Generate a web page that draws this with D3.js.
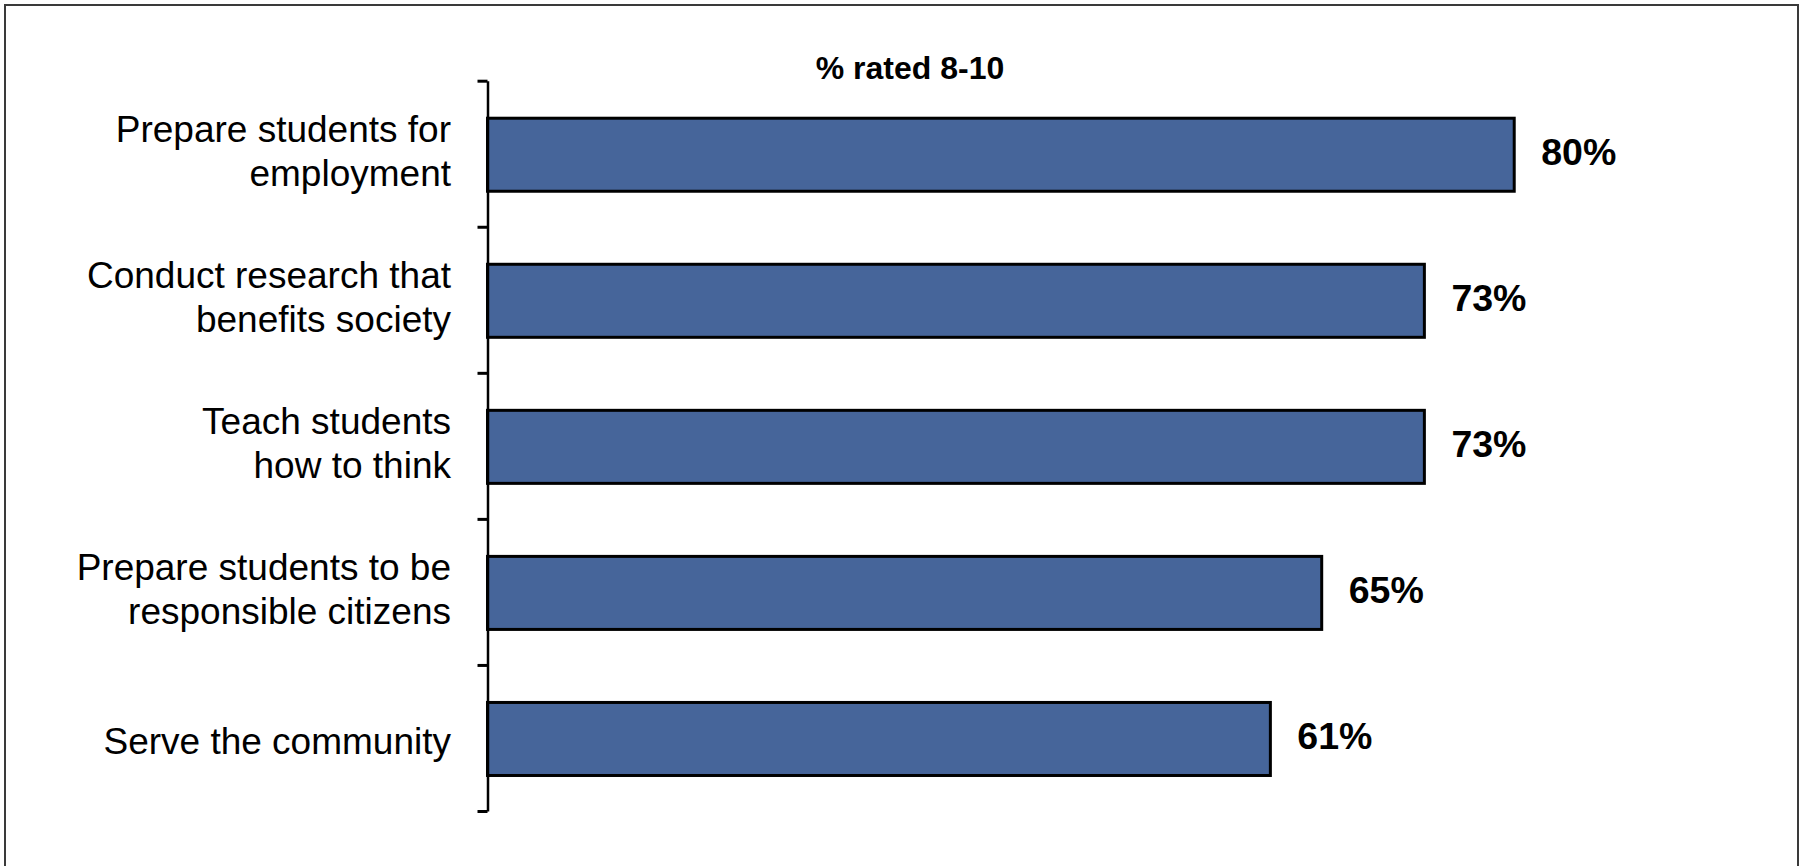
<!DOCTYPE html>
<html>
<head>
<meta charset="utf-8">
<script src="https://cdn.jsdelivr.net/npm/d3@7/dist/d3.min.js"></script>
<style>
  html, body { margin: 0; padding: 0; background: #fff; }
  svg { display: block; }
  text { font-family: "Liberation Sans", Arial, Helvetica, sans-serif; fill: #000; }
</style>
</head>
<body>
<svg id="chart" width="1802" height="866"></svg>
<script>
// ---- data ----
const categories = [
  ["Prepare students for", "employment"],
  ["Conduct research that", "benefits society"],
  ["Teach students", "how to think"],
  ["Prepare students to be", "responsible citizens"],
  ["Serve the community"]
];
const values = [80, 73, 73, 65, 61];
const valueLabels = ["80%", "73%", "73%", "65%", "61%"];
const chartTitle = "% rated 8-10";

// ---- layout ----
(function () {
const axisX = 487.5;
const plotTop = 80.7, plotBottom = 811;
const svg = d3.select("#chart");

// frame
svg.append("rect")
  .attr("x", 5).attr("y", 5)
  .attr("width", 1793).attr("height", 880)
  .attr("fill", "none").attr("stroke", "#3a3a3a").attr("stroke-width", 2);

const keys = categories.map((d, i) => i);
const y = d3.scaleBand().domain(keys).range([plotTop, plotBottom])
  .paddingInner(0.5).paddingOuter(0.25);
const x = d3.scaleLinear().domain([0, 100]).range([axisX, axisX + 1283.4]);

// bars
svg.append("g").selectAll("rect").data(values).join("rect")
  .attr("x", x(0))
  .attr("y", (d, i) => y(i) + 1)
  .attr("width", d => x(d) - x(0))
  .attr("height", y.bandwidth())
  .attr("fill", "#46659a")
  .attr("stroke", "#000")
  .attr("stroke-width", 3);

// category axis with ticks at band boundaries
const yEdges = d3.scaleLinear().domain([0, categories.length]).range([plotTop, plotBottom]);
const axis = svg.append("g")
  .attr("transform", `translate(${axisX},0)`)
  .call(d3.axisLeft(yEdges).ticks(categories.length).tickFormat("").tickSize(10).tickSizeOuter(0));
axis.select(".domain").attr("stroke", "#000").attr("stroke-width", 2.5);
axis.selectAll(".tick line").attr("stroke", "#000").attr("stroke-width", 3);

// category labels
const labelG = svg.append("g");
categories.forEach((lines, i) => {
  const cy = y(i) + y.bandwidth() / 2 + 3;
  const t = labelG.append("text")
    .attr("text-anchor", "end")
    .attr("font-size", 37);
  if (lines.length === 1) {
    t.append("tspan").attr("x", 451).attr("y", cy + 13).text(lines[0]);
  } else {
    t.append("tspan").attr("x", 451).attr("y", cy - 15).text(lines[0]);
    t.append("tspan").attr("x", 451).attr("y", cy + 29).text(lines[1]);
  }
});

// value labels
svg.append("g").selectAll("text").data(values).join("text")
  .attr("x", d => x(d) + 27)
  .attr("y", (d, i) => y(i) + y.bandwidth() / 2 + 11)
  .attr("font-size", 37.5)
  .attr("font-weight", "bold")
  .text((d, i) => valueLabels[i]);

// title
svg.append("text")
  .attr("x", 910).attr("y", 79)
  .attr("text-anchor", "middle")
  .attr("font-size", 32)
  .attr("font-weight", "bold")
  .text(chartTitle);
})();
</script>
</body>
</html>
